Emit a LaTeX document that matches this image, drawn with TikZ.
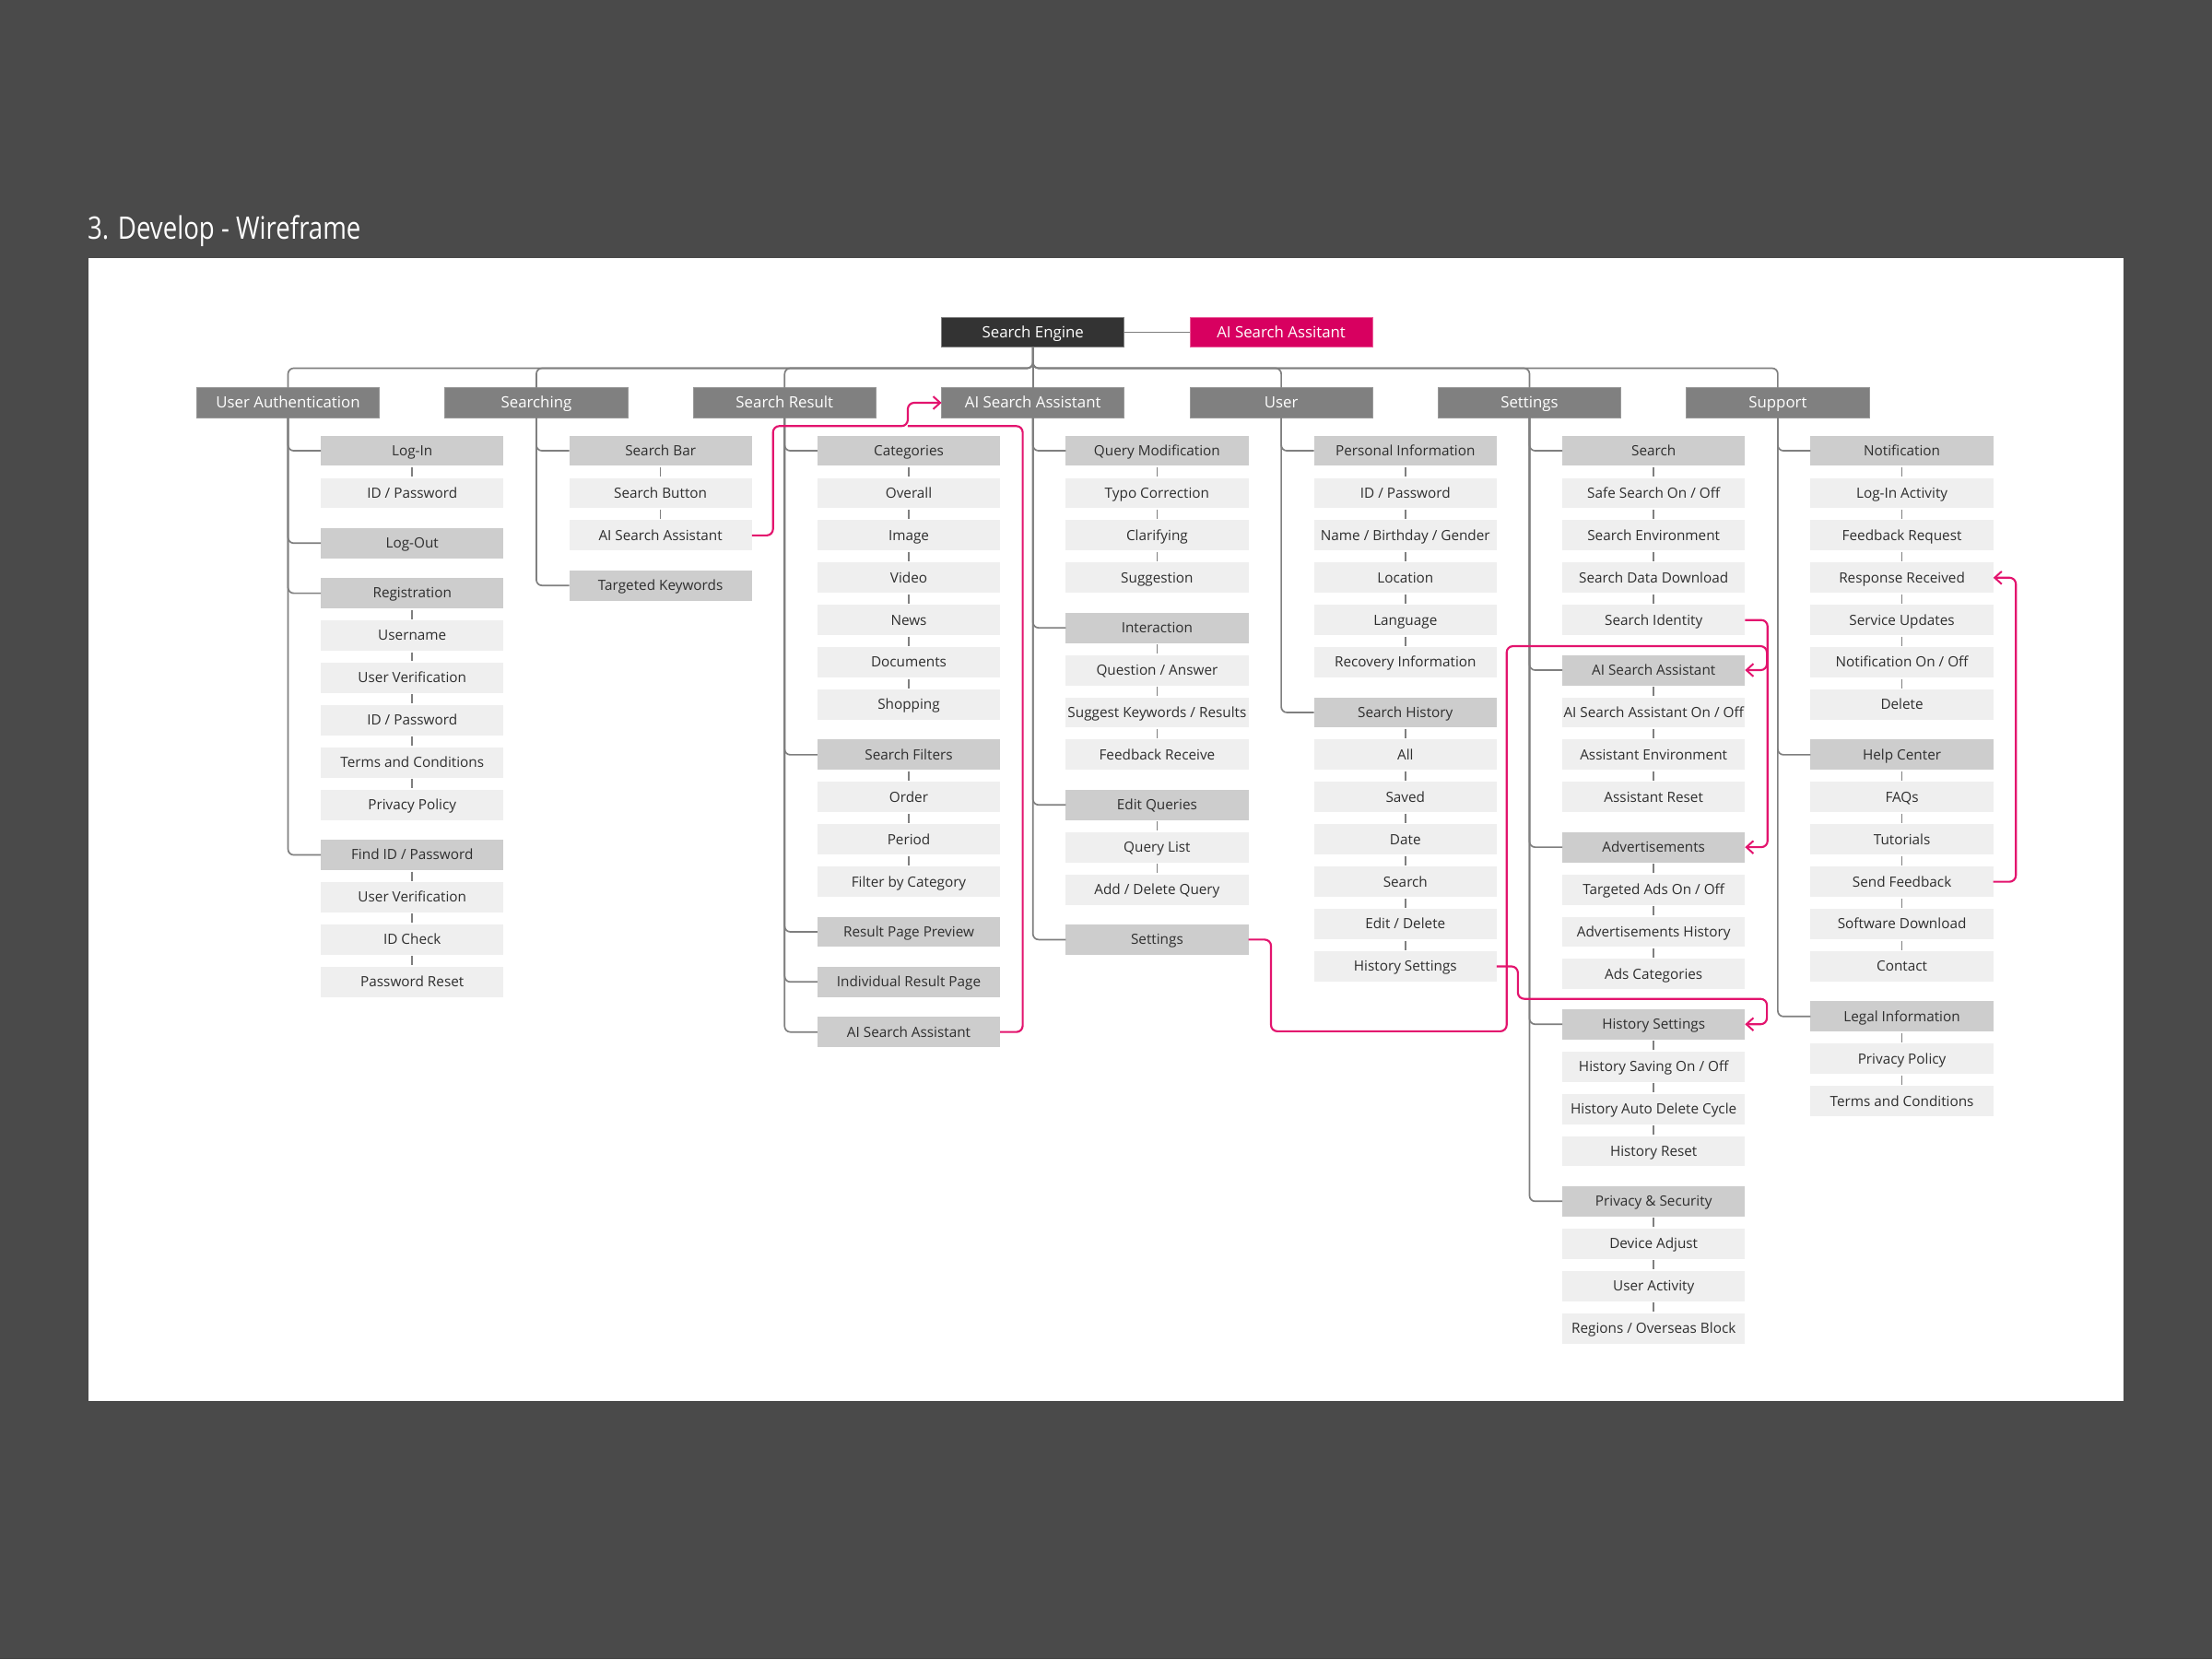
\documentclass[tikz,border=0pt]{standalone}
\usepackage{fontspec}
\setmainfont{Open Sans}
\newfontfamily\titlefont[FakeStretch=0.82]{Open Sans}
\usetikzlibrary{arrows.meta}
\definecolor{bgdark}{HTML}{4A4A4A}
\definecolor{topdark}{HTML}{333333}
\definecolor{magfill}{HTML}{D80060}
\definecolor{magline}{HTML}{E3146E}
\definecolor{lvone}{HTML}{808080}
\definecolor{mainfill}{HTML}{CDCDCD}
\definecolor{subfill}{HTML}{EFEFEF}
\definecolor{treeline}{HTML}{7F7F7F}
\definecolor{txt}{HTML}{2E2E2E}
\newcommand\mnode[5]{\node[mainbox] (#1) at ({#2+88},{319.5+30*#3+5.5*#4}) {#5};}
\newcommand\snode[5]{\node[subbox] (#1) at ({#2+88},{319.5+30*#3+5.5*#4}) {#5};}
\begin{document}
\begin{tikzpicture}[x=1pt,y=-1pt,
  basebox/.style={minimum width=129.5pt,minimum height=21.5pt,inner sep=0pt,outer sep=0pt,anchor=center},
  bigtext/.style={font=\fontsize{11}{13}\selectfont,text height=9.2pt,text depth=1.5pt},
  smalltext/.style={font=\fontsize{10}{12}\selectfont,text height=8.4pt,text depth=1.4pt},
  topbox/.style={basebox,bigtext,fill=topdark,draw=lvone,line width=0.6pt,text=white},
  magbox/.style={basebox,bigtext,fill=magfill,draw=magline!70!white,line width=0.6pt,text=white},
  lvbox/.style={basebox,bigtext,fill=lvone,draw=lvone!80!white,line width=0.5pt,text=white},
  mainbox/.style={basebox,smalltext,fill=mainfill,text=txt},
  subbox/.style={basebox,smalltext,fill=subfill,text=txt},
  tree/.style={draw=treeline,line width=1.1pt,rounded corners=4pt},
  magpath/.style={draw=magline,line width=1.4pt,rounded corners=4.5pt},
  magarrow/.style={magpath,-{Straight Barb[length=5pt,width=9pt,line width=1.3pt]}}
]
\useasboundingbox (0,0) rectangle (1568,1176);
\fill[bgdark] (0,0) rectangle (1568,1176);
\fill[white] (63,183) rectangle (1505,993);
\node[anchor=base west,inner sep=0pt,text=white,font=\titlefont\fontsize{22}{26}\selectfont] (title) at (62,169.5) {3. Develop - Wireframe};

% top
\node[topbox] (se) at (732.2,235.5) {Search Engine};
\node[magbox] (ais) at (908.2,235.5) {AI Search Assitant};
\draw[tree] (se.east) -- (ais.west);

% level one
\node[lvbox] (l1ua) at (204.2,285.5) {User Authentication};
\node[lvbox] (l1sg) at (380.2,285.5) {Searching};
\node[lvbox] (l1sr) at (556.2,285.5) {Search Result};
\node[lvbox] (l1ai) at (732.2,285.5) {AI Search Assistant};
\node[lvbox] (l1us) at (908.2,285.5) {User};
\node[lvbox] (l1st) at (1084.2,285.5) {Settings};
\node[lvbox] (l1sp) at (1260.2,285.5) {Support};
\coordinate (bus) at (732.2,261);
\draw[tree] (se.south) -- (l1ai.north);
\foreach \n in {l1ua,l1sg,l1sr,l1us,l1st,l1sp}
  \draw[tree] (se.south) -- (bus) -| (\n.north);

% User Authentication
\mnode{ua0}{204.2}{0}{0}{Log-In}
\snode{ua1}{204.2}{1}{0}{ID / Password}
\mnode{ua2}{204.2}{2}{1}{Log-Out}
\mnode{ua3}{204.2}{3}{2}{Registration}
\snode{ua4}{204.2}{4}{2}{Username}
\snode{ua5}{204.2}{5}{2}{User Verification}
\snode{ua6}{204.2}{6}{2}{ID / Password}
\snode{ua7}{204.2}{7}{2}{Terms and Conditions}
\snode{ua8}{204.2}{8}{2}{Privacy Policy}
\mnode{ua9}{204.2}{9}{3}{Find ID / Password}
\snode{ua10}{204.2}{10}{3}{User Verification}
\snode{ua11}{204.2}{11}{3}{ID Check}
\snode{ua12}{204.2}{12}{3}{Password Reset}

% Searching
\mnode{sg0}{380.2}{0}{0}{Search Bar}
\snode{sg1}{380.2}{1}{0}{Search Button}
\snode{sg2}{380.2}{2}{0}{AI Search Assistant}
\mnode{sg3}{380.2}{3}{1}{Targeted Keywords}

% Search Result
\mnode{sr0}{556.2}{0}{0}{Categories}
\snode{sr1}{556.2}{1}{0}{Overall}
\snode{sr2}{556.2}{2}{0}{Image}
\snode{sr3}{556.2}{3}{0}{Video}
\snode{sr4}{556.2}{4}{0}{News}
\snode{sr5}{556.2}{5}{0}{Documents}
\snode{sr6}{556.2}{6}{0}{Shopping}
\mnode{sr7}{556.2}{7}{1}{Search Filters}
\snode{sr8}{556.2}{8}{1}{Order}
\snode{sr9}{556.2}{9}{1}{Period}
\snode{sr10}{556.2}{10}{1}{Filter by Category}
\mnode{sr11}{556.2}{11}{2}{Result Page Preview}
\mnode{sr12}{556.2}{12}{3}{Individual Result Page}
\mnode{sr13}{556.2}{13}{4}{AI Search Assistant}

% AI Search Assistant
\mnode{ai0}{732.2}{0}{0}{Query Modification}
\snode{ai1}{732.2}{1}{0}{Typo Correction}
\snode{ai2}{732.2}{2}{0}{Clarifying}
\snode{ai3}{732.2}{3}{0}{Suggestion}
\mnode{ai4}{732.2}{4}{1}{Interaction}
\snode{ai5}{732.2}{5}{1}{Question / Answer}
\snode{ai6}{732.2}{6}{1}{Suggest Keywords / Results}
\snode{ai7}{732.2}{7}{1}{Feedback Receive}
\mnode{ai8}{732.2}{8}{2}{Edit Queries}
\snode{ai9}{732.2}{9}{2}{Query List}
\snode{ai10}{732.2}{10}{2}{Add / Delete Query}
\mnode{ai11}{732.2}{11}{3}{Settings}

% User
\mnode{us0}{908.2}{0}{0}{Personal Information}
\snode{us1}{908.2}{1}{0}{ID / Password}
\snode{us2}{908.2}{2}{0}{Name / Birthday / Gender}
\snode{us3}{908.2}{3}{0}{Location}
\snode{us4}{908.2}{4}{0}{Language}
\snode{us5}{908.2}{5}{0}{Recovery Information}
\mnode{us6}{908.2}{6}{1}{Search History}
\snode{us7}{908.2}{7}{1}{All}
\snode{us8}{908.2}{8}{1}{Saved}
\snode{us9}{908.2}{9}{1}{Date}
\snode{us10}{908.2}{10}{1}{Search}
\snode{us11}{908.2}{11}{1}{Edit / Delete}
\snode{us12}{908.2}{12}{1}{History Settings}

% Settings
\mnode{st0}{1084.2}{0}{0}{Search}
\snode{st1}{1084.2}{1}{0}{Safe Search On / Off}
\snode{st2}{1084.2}{2}{0}{Search Environment}
\snode{st3}{1084.2}{3}{0}{Search Data Download}
\snode{st4}{1084.2}{4}{0}{Search Identity}
\mnode{st5}{1084.2}{5}{1}{AI Search Assistant}
\snode{st6}{1084.2}{6}{1}{AI Search Assistant On / Off}
\snode{st7}{1084.2}{7}{1}{Assistant Environment}
\snode{st8}{1084.2}{8}{1}{Assistant Reset}
\mnode{st9}{1084.2}{9}{2}{Advertisements}
\snode{st10}{1084.2}{10}{2}{Targeted Ads On / Off}
\snode{st11}{1084.2}{11}{2}{Advertisements History}
\snode{st12}{1084.2}{12}{2}{Ads Categories}
\mnode{st13}{1084.2}{13}{3}{History Settings}
\snode{st14}{1084.2}{14}{3}{History Saving On / Off}
\snode{st15}{1084.2}{15}{3}{History Auto Delete Cycle}
\snode{st16}{1084.2}{16}{3}{History Reset}
\mnode{st17}{1084.2}{17}{4}{Privacy \& Security}
\snode{st18}{1084.2}{18}{4}{Device Adjust}
\snode{st19}{1084.2}{19}{4}{User Activity}
\snode{st20}{1084.2}{20}{4}{Regions / Overseas Block}

% Support
\mnode{sp0}{1260.2}{0}{0}{Notification}
\snode{sp1}{1260.2}{1}{0}{Log-In Activity}
\snode{sp2}{1260.2}{2}{0}{Feedback Request}
\snode{sp3}{1260.2}{3}{0}{Response Received}
\snode{sp4}{1260.2}{4}{0}{Service Updates}
\snode{sp5}{1260.2}{5}{0}{Notification On / Off}
\snode{sp6}{1260.2}{6}{0}{Delete}
\mnode{sp7}{1260.2}{7}{1}{Help Center}
\snode{sp8}{1260.2}{8}{1}{FAQs}
\snode{sp9}{1260.2}{9}{1}{Tutorials}
\snode{sp10}{1260.2}{10}{1}{Send Feedback}
\snode{sp11}{1260.2}{11}{1}{Software Download}
\snode{sp12}{1260.2}{12}{1}{Contact}
\mnode{sp13}{1260.2}{13}{2}{Legal Information}
\snode{sp14}{1260.2}{14}{2}{Privacy Policy}
\snode{sp15}{1260.2}{15}{2}{Terms and Conditions}

% trunks
\foreach \p/\c in {l1ua/ua0,l1ua/ua2,l1ua/ua3,l1ua/ua9,
  l1sg/sg0,l1sg/sg3,
  l1sr/sr0,l1sr/sr7,l1sr/sr11,l1sr/sr12,l1sr/sr13,
  l1ai/ai0,l1ai/ai4,l1ai/ai8,l1ai/ai11,
  l1us/us0,l1us/us6,
  l1st/st0,l1st/st5,l1st/st9,l1st/st13,l1st/st17,
  l1sp/sp0,l1sp/sp7,l1sp/sp13}
  \draw[tree] (\p.south) |- (\c.west);

% short links
\foreach \a/\b in {ua0/ua1,ua3/ua4,ua4/ua5,ua5/ua6,ua6/ua7,ua7/ua8,ua9/ua10,ua10/ua11,ua11/ua12,
  sg0/sg1,sg1/sg2,
  sr0/sr1,sr1/sr2,sr2/sr3,sr3/sr4,sr4/sr5,sr5/sr6,sr7/sr8,sr8/sr9,sr9/sr10,
  ai0/ai1,ai1/ai2,ai2/ai3,ai4/ai5,ai5/ai6,ai6/ai7,ai8/ai9,ai9/ai10,
  us0/us1,us1/us2,us2/us3,us3/us4,us4/us5,us6/us7,us7/us8,us8/us9,us9/us10,us10/us11,us11/us12,
  st0/st1,st1/st2,st2/st3,st3/st4,st5/st6,st6/st7,st7/st8,st9/st10,st10/st11,st11/st12,
  st13/st14,st14/st15,st15/st16,st17/st18,st18/st19,st19/st20,
  sp0/sp1,sp1/sp2,sp2/sp3,sp3/sp4,sp4/sp5,sp5/sp6,sp7/sp8,sp8/sp9,sp9/sp10,sp10/sp11,sp11/sp12,
  sp13/sp14,sp14/sp15}
  \draw[draw=treeline,line width=1.1pt] ([yshift=-1pt]\a.south) -- ([yshift=1pt]\b.north);

% magenta connectors
\coordinate (jA) at (643.5,302);
\draw[magarrow] (sg2.east) -- ++(15,0) |- (jA) |- (l1ai.west);
\draw[magpath] (sr13.east) -- ++(16,0) |- (jA);
\coordinate (m2a) at (1068,731);
\coordinate (m2b) at (1252.5,458);
\draw[magarrow] (ai11.east) -- ++(16,0) |- (m2a) |- (m2b) |- (st5.east);
\draw[magarrow] (st4.east) -- ++(16,0) |- (st9.east);
\coordinate (m4a) at (1252.5,708);
\draw[magarrow] (us12.east) -- ++(15,0) |- (m4a) |- (st13.east);
\draw[magarrow] (sp10.east) -- ++(16,0) |- (sp3.east);
\end{tikzpicture}
\end{document}
